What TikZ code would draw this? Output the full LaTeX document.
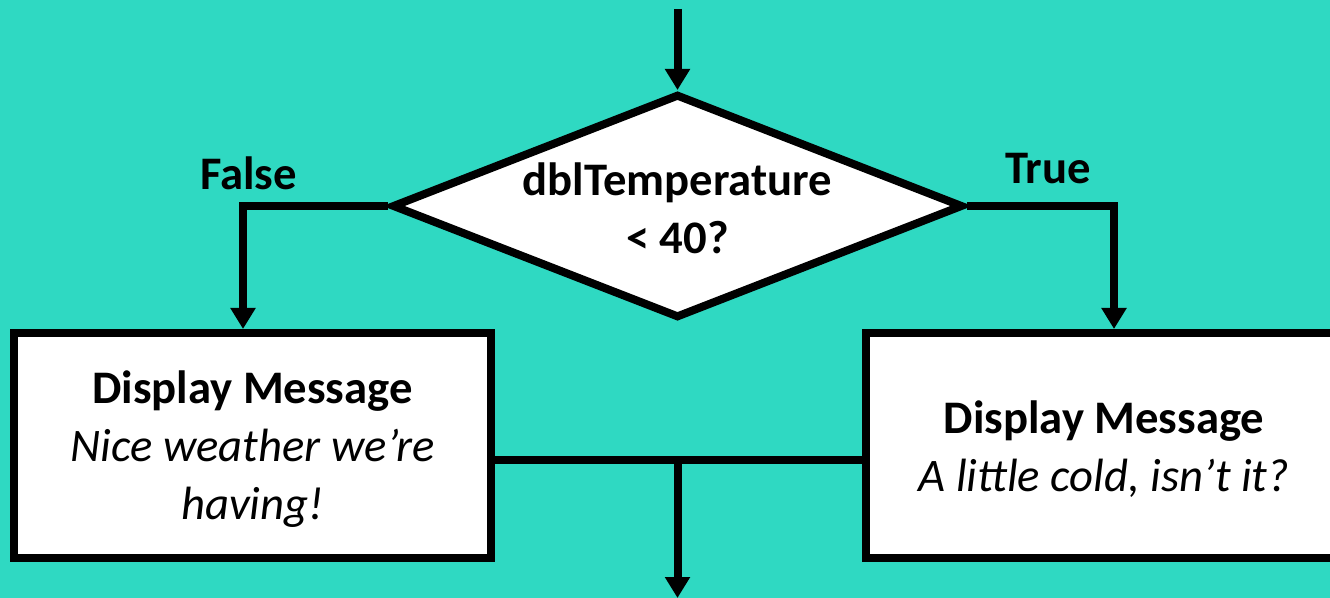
\documentclass[tikz,border=0pt]{standalone}
\usepackage{fontspec}
\setmainfont{Carlito}
\usetikzlibrary{shapes.geometric,arrows.meta}
\definecolor{teal}{RGB}{47,217,194}
\begin{document}
\begin{tikzpicture}[x=0.75pt,y=-0.75pt,
  flow/.style={line width=6pt,draw=black},
  arrow/.style={flow,-{Triangle[width=18pt,length=15.75pt]}},
  txt/.style={font=\fontsize{35}{43.5}\selectfont,align=center,inner sep=0pt},
  bold/.style={txt,font=\fontsize{35}{43.5}\selectfont\bfseries},
  box/.style={flow,fill=white,rectangle,minimum width=357.75pt,minimum height=168.75pt,inner sep=0pt},
  decision/.style={flow,fill=white,diamond,minimum width=428.25pt,minimum height=168pt,inner sep=0pt}]
  \fill[teal] (0,0) rectangle (1330,598);
  \useasboundingbox (0,0) rectangle (1330,598);
  \clip (0,0) rectangle (1330,598);

  % decision
  \node[decision] (dec) at (677.5,206) {};
  \node[bold] (q) at (677.5,208) {dblTemperature\\< 40?};

  % message boxes
  \node[box] (L) at (252.5,445.5) {};
  \node[txt] (lt) at ([yshift=-3pt]L.center) {\textbf{Display Message}\\\textit{Nice weather we’re}\\\textit{having!}};
  \node[box] (R) at (1104,445.5) {};
  \node[txt] (rt) at ([yshift=-3pt]R.center) {\textbf{Display Message}\\\textit{A little cold, isn’t it?}};

  % branch labels
  \node[bold,anchor=base] (f) at (248.5,190) {False};
  \node[bold,anchor=base] (t) at (1048,184) {True};

  % connectors
  \coordinate (in) at (677.5,9);
  \coordinate (fk) at (243,206);
  \coordinate (tk) at (1114,206);
  \coordinate (join) at (677.5,460);
  \coordinate (out) at (677.5,598);
  \draw[arrow] (in) -- (dec.north);
  \draw[arrow] (dec.west) -- (fk) -- (fk |- L.north);
  \draw[arrow] (dec.east) -- (tk) -- (tk |- R.north);
  \draw[flow] (L.east |- join) -- (R.west |- join);
  \draw[arrow] (join) -- (out);
\end{tikzpicture}
\end{document}
